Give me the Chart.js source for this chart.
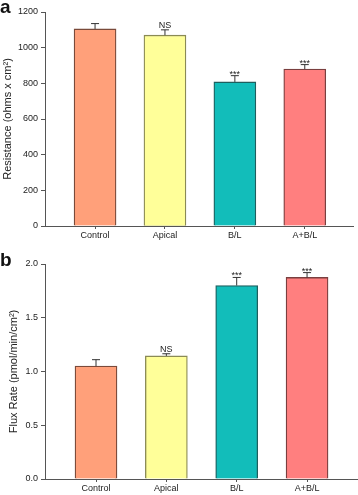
<!DOCTYPE html>
<html>
<head>
<meta charset="utf-8">
<script src="https://cdn.jsdelivr.net/npm/chart.js@4.4.1/dist/chart.umd.min.js"></script>
<style>
  body { margin: 0; background: #fff; }
  #wrap { position: relative; width: 358px; height: 495px; font-family: "Liberation Sans", Arial, sans-serif; }
  canvas { position: absolute; left: 0; }
  .lbl { position: absolute; left: 0; font-weight: bold; font-size: 19px; line-height: 1; color: #111; }
</style>
</head>
<body>
<div id="wrap">
  <canvas id="chartA" width="358" height="245" style="top:0"></canvas>
  <canvas id="chartB" width="358" height="250" style="top:245px"></canvas>
  <div class="lbl" style="top:-3px">a</div>
  <div class="lbl" style="top:250px">b</div>
</div>
<script>
// data
const categories = ['Control', 'Apical', 'B/L', 'A+B/L'];
const resistance = [1105, 1070, 808, 880];
const resistanceErr = [30, 30, 35, 25];
const fluxRate = [1.05, 1.145, 1.80, 1.875];
const fluxRateErr = [0.06, 0.02, 0.075, 0.045];
const marks = ['', 'NS', '***', '***'];

const fills = ['#FFA07A', '#FFFF99', '#12BDBA', '#FF7F7F'];
const borders = ['#7a4a3a', '#8a8a55', '#1d5f5e', '#7a3f3f'];
const axisColor = '#555';
const font = "'Liberation Sans', Arial, sans-serif";

// error bars + significance marks
const errorBars = {
  id: 'errorBars',
  afterDatasetsDraw(chart, args, opts) {
    const ctx = chart.ctx;
    const meta = chart.getDatasetMeta(0);
    const ys = chart.scales.y;
    ctx.save();
    meta.data.forEach((bar, i) => {
      const v = chart.data.datasets[0].data[i].y;
      const top = ys.getPixelForValue(v + opts.err[i]);
      ctx.strokeStyle = '#333';
      ctx.lineWidth = 1;
      ctx.beginPath();
      ctx.moveTo(bar.x, bar.y);
      ctx.lineTo(bar.x, top);
      ctx.moveTo(bar.x - 4, top);
      ctx.lineTo(bar.x + 4, top);
      ctx.stroke();
      if (marks[i]) {
        ctx.fillStyle = '#222';
        ctx.font = '9px ' + font;
        ctx.textAlign = 'center';
        if (marks[i] === 'NS') {
          ctx.textBaseline = 'bottom';
          ctx.fillText(marks[i], bar.x, top);
        } else {
          ctx.textBaseline = 'alphabetic';
          ctx.fillText(marks[i], bar.x, top + 1);
        }
      }
    });
    ctx.restore();
  }
};

function makeChart(id, values, errs, yMax, yStep, title, xMin, xMax, padTop, padRight, xHeight, titlePad, decimals) {
  return new Chart(document.getElementById(id), {
    type: 'bar',
    data: {
      datasets: [{
        data: values.map((v, i) => ({ x: i, y: v })),
        backgroundColor: fills,
        borderColor: borders,
        borderWidth: 1.3,
        borderSkipped: 'bottom',
        barThickness: 42
      }]
    },
    options: {
      responsive: false,
      animation: false,
      layout: { padding: { top: padTop, right: padRight, left: 0, bottom: 0 } },
      plugins: {
        legend: { display: false },
        tooltip: { enabled: false },
        errorBars: { err: errs }
      },
      scales: {
        x: {
          type: 'linear',
          min: xMin,
          max: xMax,
          offset: false,
          afterBuildTicks: s => { s.ticks = categories.map((c, i) => ({ value: i })); },
          afterFit: s => { s.height = xHeight; },
          grid: { drawOnChartArea: false, offset: false, tickLength: 3, color: axisColor },
          border: { color: axisColor, width: 1 },
          ticks: {
            callback: v => categories[v],
            color: '#222',
            font: { family: font, size: 9 },
            padding: 1,
            maxRotation: 0
          }
        },
        y: {
          min: 0,
          max: yMax,
          afterFit: s => { s.width = 45; },
          grid: { drawOnChartArea: false, tickLength: 4, color: axisColor },
          border: { color: axisColor, width: 1 },
          ticks: {
            stepSize: yStep,
            callback: v => v.toFixed(decimals),
            color: '#222',
            font: { family: font, size: 9 },
            padding: 3
          },
          title: {
            display: true,
            text: title,
            color: '#222',
            font: { family: font, size: 11 },
            padding: { top: titlePad, bottom: 0 }
          }
        }
      }
    },
    plugins: [errorBars]
  });
}

makeChart('chartA', resistance, resistanceErr, 1200, 200, 'Resistance (ohms x cm²)',
  -0.716, 3.69, 12, 5, 19, 1, 0);
makeChart('chartB', fluxRate, fluxRateErr, 2.0, 0.5, 'Flux Rate (pmol/min/cm²)',
  -0.725, 3.71, 19, 1, 16, 7, 1);
</script>
</body>
</html>
